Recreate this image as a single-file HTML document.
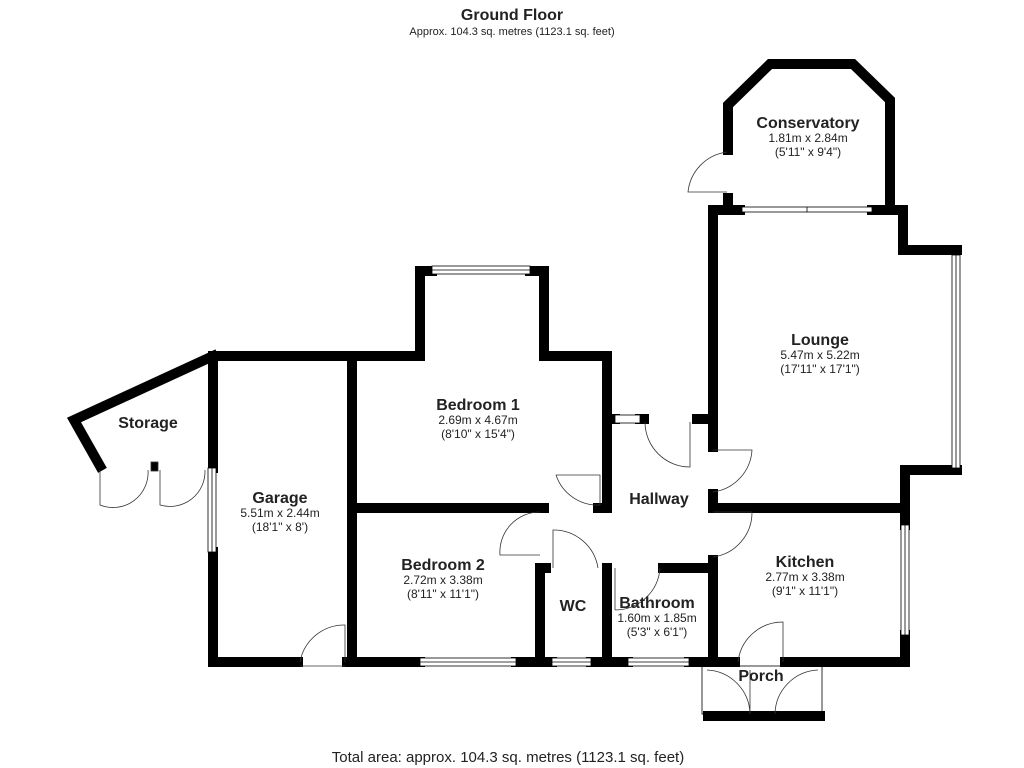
<!DOCTYPE html>
<html><head><meta charset="utf-8"><style>
html,body{margin:0;padding:0;background:#fff;}
svg{display:block;}
text{font-family:"Liberation Sans",Arial,sans-serif;fill:#222;text-anchor:middle;}
.t{font-weight:bold;font-size:16px;}
.s{font-size:12px;}
</style></head><body>
<svg width="1024" height="768" viewBox="0 0 1024 768" xmlns="http://www.w3.org/2000/svg">
<g stroke="#000" stroke-width="10" fill="none" stroke-linecap="square" stroke-linejoin="miter">
<polyline points="100,466 74,420 213,356"/>
<polyline points="213,356 420,356 420,271 432,271"/>
<polyline points="530,271 544,271 544,356 607,356 607,508"/>
<line x1="607" y1="419" x2="615" y2="419"/>
<line x1="640" y1="419" x2="644" y2="419"/>
<line x1="697" y1="419" x2="711" y2="419"/>
<polyline points="213,356 213,468"/>
<polyline points="213,552 213,662 298,662"/>
<line x1="352" y1="360" x2="352" y2="662"/>
<line x1="347" y1="662" x2="420" y2="662"/>
<line x1="516" y1="662" x2="552" y2="662"/>
<line x1="591" y1="662" x2="628" y2="662"/>
<line x1="689" y1="662" x2="735" y2="662"/>
<line x1="352" y1="508" x2="544" y2="508"/>
<line x1="598" y1="508" x2="607" y2="508"/>
<line x1="540" y1="568" x2="540" y2="662"/>
<line x1="540" y1="568" x2="546" y2="568"/>
<line x1="607" y1="568" x2="607" y2="662"/>
<line x1="663" y1="568" x2="713" y2="568"/>
<polyline points="740,210 713,210 713,447"/>
<line x1="713" y1="494" x2="713" y2="508"/>
<line x1="713" y1="508" x2="905" y2="508"/>
<polyline points="872,210 903,210 903,250 957,250"/>
<polyline points="957,470 905,470 905,525"/>
<polyline points="905,635 905,662 785,662"/>
<line x1="713" y1="560" x2="713" y2="662"/>
<polyline points="728,150 728,105 770,64 853,64 890,100 890,205"/>
<line x1="728" y1="198" x2="728" y2="208"/>
<line x1="708" y1="716" x2="820" y2="716"/>
</g>
<g stroke="#000" stroke-width="0.8" fill="#fff">
<rect x="432" y="266" width="98" height="8"/><line x1="432" y1="270" x2="530" y2="270"/>
<rect x="208" y="468" width="8" height="84"/><line x1="212" y1="468" x2="212" y2="552"/>
<rect x="420" y="658" width="96" height="8"/><line x1="420" y1="662" x2="516" y2="662"/>
<rect x="552" y="658" width="39" height="8"/><line x1="552" y1="662" x2="591" y2="662"/>
<rect x="628" y="658" width="61" height="8"/><line x1="628" y1="662" x2="689" y2="662"/>
<rect x="615" y="415" width="25" height="8"/>
<rect x="952" y="255" width="8" height="213"/><line x1="956" y1="255" x2="956" y2="468"/>
<rect x="901" y="525" width="8" height="110"/><line x1="905" y1="525" x2="905" y2="635"/>
<rect x="742" y="207" width="130" height="5"/><line x1="807" y1="207" x2="807" y2="212"/>
<rect x="702" y="666" width="120" height="48" fill="none"/>
</g>
<g stroke="#333" stroke-width="0.8" fill="none">
<path d="M100,470 L100,505 A35,35 0 0 0 148,470"/><path d="M160,470 L160,505 A35,35 0 0 0 205,470"/>
<rect x="151" y="462" width="7" height="9" fill="#000"/>
<path d="M345,662 L345,625 A45,45 0 0 0 300,662"/><line x1="300" y1="666" x2="345" y2="666"/>
<path d="M600,505 L600,475 L556,475"/>
<path d="M556,475 A44,44 0 0 0 600,505"/>
<path d="M540,512 A40,40 0 0 0 500,555 L540,555"/>
<path d="M553,568 L553,530 A45,45 0 0 1 598,568"/>
<path d="M615,568 L615,610"/><path d="M615,610 A45,45 0 0 0 660,568"/>
<path d="M645,422 A45,45 0 0 0 690,467 L690,422"/>
<path d="M713,450 L752,450 A45,45 0 0 1 713,492"/>
<path d="M713,512 L752,512 A45,45 0 0 1 713,557"/>
<path d="M783,662 L783,622 A45,45 0 0 0 738,662"/>
<path d="M727,152 A45,45 0 0 0 688,192 L727,192"/>
<path d="M707,670 A45,45 0 0 1 750,714 L750,670"/>
<path d="M818,670 A45,45 0 0 0 775,714"/>
</g>
<text x="512" y="20" class="t">Ground Floor</text>
<text x="512" y="35" class="s" style="font-size:11px">Approx. 104.3 sq. metres (1123.1 sq. feet)</text>
<text x="148" y="428" class="t">Storage</text>
<text x="280" y="503" class="t">Garage</text><text x="280" y="517" class="s">5.51m x 2.44m</text><text x="280" y="531" class="s">(18'1" x 8')</text>
<text x="478" y="410" class="t">Bedroom 1</text><text x="478" y="424" class="s">2.69m x 4.67m</text><text x="478" y="438" class="s">(8'10" x 15'4")</text>
<text x="443" y="570" class="t">Bedroom 2</text><text x="443" y="584" class="s">2.72m x 3.38m</text><text x="443" y="598" class="s">(8'11" x 11'1")</text>
<text x="659" y="504" class="t">Hallway</text>
<text x="573" y="611" class="t">WC</text>
<text x="657" y="608" class="t">Bathroom</text><text x="657" y="622" class="s">1.60m x 1.85m</text><text x="657" y="636" class="s">(5'3" x 6'1")</text>
<text x="805" y="567" class="t">Kitchen</text><text x="805" y="581" class="s">2.77m x 3.38m</text><text x="805" y="595" class="s">(9'1" x 11'1")</text>
<text x="761" y="681" class="t">Porch</text>
<text x="820" y="345" class="t">Lounge</text><text x="820" y="359" class="s">5.47m x 5.22m</text><text x="820" y="373" class="s">(17'11" x 17'1")</text>
<text x="808" y="128" class="t">Conservatory</text><text x="808" y="142" class="s">1.81m x 2.84m</text><text x="808" y="156" class="s">(5'11" x 9'4")</text>
<text x="508" y="762" style="font-size:15px">Total area: approx. 104.3 sq. metres (1123.1 sq. feet)</text>
</svg>
</body></html>
